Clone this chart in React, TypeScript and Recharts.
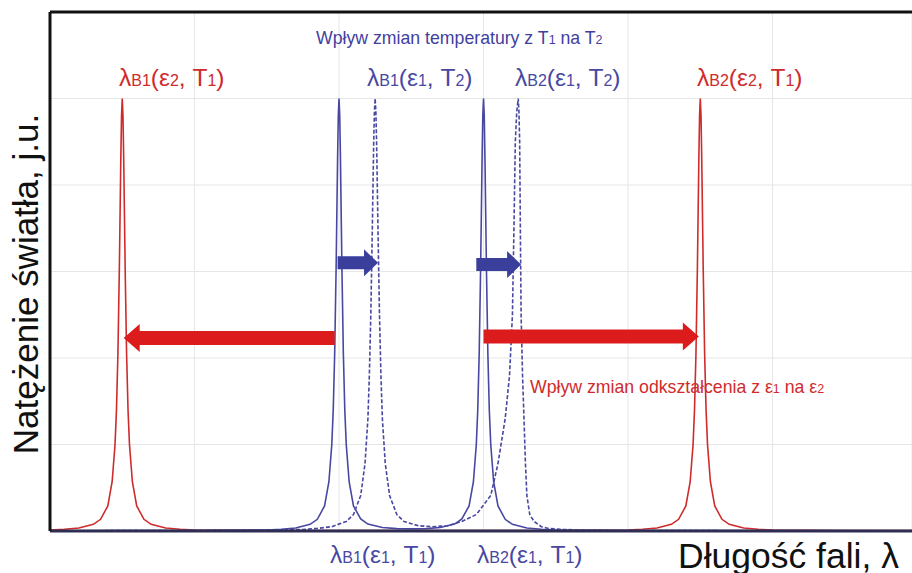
import React from "react";
import { LineChart, Line, XAxis, YAxis, CartesianGrid, ReferenceLine } from "recharts";

const W = 912;
const H = 573;

// spectrum (ε2, T1) – red
const redX = [
  0, 0.1, 0.2, 0.3, 0.35, 0.4, 0.43, 0.45, 0.46, 0.47, 0.48, 0.49, 0.495, 0.5, 0.505, 0.51, 0.52, 0.53, 0.54,
  0.55, 0.57, 0.6, 0.65, 0.7, 0.8, 0.9, 1.0, 1.5, 2.0, 2.5, 3.0, 3.5, 4.0, 4.1, 4.2, 4.3, 4.35, 4.4, 4.43, 4.45,
  4.46, 4.47, 4.48, 4.49, 4.495, 4.5, 4.505, 4.51, 4.52, 4.53, 4.54, 4.55, 4.57, 4.6, 4.65, 4.7, 4.8, 4.9, 5.0,
  5.5, 6.0,
];
const redY = [
  0.012, 0.02, 0.035, 0.077, 0.135, 0.29, 0.57, 1.0, 1.4, 2.05, 3.05, 4.3, 4.8, 5, 4.8, 4.3, 3.05, 2.05, 1.4,
  1.0, 0.57, 0.29, 0.135, 0.077, 0.035, 0.02, 0.012, 0.006, 0.004, 0.004, 0.004, 0.006, 0.012, 0.02, 0.035,
  0.077, 0.135, 0.29, 0.57, 1.0, 1.4, 2.05, 3.05, 4.3, 4.8, 5, 4.8, 4.3, 3.05, 2.05, 1.4, 1.0, 0.57, 0.29,
  0.135, 0.077, 0.035, 0.02, 0.012, 0.006, 0.004,
];

// spectrum (ε1, T1) – blue solid
const blueX = [
  0, 0.5, 1.0, 1.5, 1.6, 1.7, 1.8, 1.85, 1.9, 1.93, 1.95, 1.96, 1.97, 1.98, 1.99, 1.995, 2.0, 2.005, 2.01, 2.02,
  2.03, 2.04, 2.05, 2.07, 2.1, 2.15, 2.2, 2.3, 2.4, 2.5, 2.6, 2.7, 2.8, 2.85, 2.9, 2.93, 2.95, 2.96, 2.97, 2.98,
  2.99, 2.995, 3.0, 3.005, 3.01, 3.02, 3.03, 3.04, 3.05, 3.07, 3.1, 3.15, 3.2, 3.3, 3.4, 3.5, 4.0, 5.0, 6.0,
];
const blueY = [
  0.003, 0.004, 0.006, 0.012, 0.02, 0.035, 0.077, 0.135, 0.29, 0.57, 1.0, 1.4, 2.05, 3.05, 4.3, 4.8, 5, 4.8,
  4.3, 3.05, 2.05, 1.4, 1.0, 0.57, 0.29, 0.14, 0.08, 0.04, 0.028, 0.024, 0.028, 0.04, 0.08, 0.14, 0.29, 0.57,
  1.0, 1.4, 2.05, 3.05, 4.3, 4.8, 5, 4.8, 4.3, 3.05, 2.05, 1.4, 1.0, 0.57, 0.29, 0.135, 0.077, 0.035, 0.02,
  0.012, 0.006, 0.004, 0.003,
];

// spectrum (ε1, T2) – blue dashed
const dashX = [
  0, 0.5, 1.0, 1.5, 1.75, 1.85, 1.95, 2.05, 2.1, 2.15, 2.18, 2.2, 2.21, 2.22, 2.23, 2.24, 2.245, 2.25, 2.255,
  2.26, 2.27, 2.28, 2.29, 2.3, 2.32, 2.35, 2.4, 2.45, 2.55, 2.65, 2.75, 2.85, 2.95, 3.05, 3.1, 3.15, 3.18, 3.2,
  3.21, 3.22, 3.23, 3.24, 3.245, 3.25, 3.255, 3.26, 3.27, 3.28, 3.29, 3.3, 3.32, 3.35, 3.4, 3.45, 3.55, 3.65,
  3.75, 4.0, 5.0, 6.0,
];
const dashY = [
  0.003, 0.004, 0.006, 0.01, 0.018, 0.03, 0.05, 0.11, 0.19, 0.41, 0.78, 1.3, 1.8, 2.5, 3.45, 4.5, 4.85, 5,
  4.85, 4.5, 3.45, 2.5, 1.8, 1.3, 0.78, 0.41, 0.19, 0.11, 0.06, 0.05, 0.06, 0.11, 0.19, 0.41, 0.78, 1.3, 1.8,
  2.5, 3.45, 4.5, 4.85, 5, 4.85, 4.5, 3.45, 2.5, 1.8, 1.3, 0.78, 0.41, 0.19, 0.11, 0.05, 0.03, 0.018, 0.012,
  0.008, 0.005, 0.003, 0.002,
];

const xTicks = [0, 1, 2, 3, 4, 5];
const yTicks = [0, 1, 2, 3, 4, 5, 6];

// shifts: [fromX, toX, y]
const strainShifts = [
  [1.97, 0.51, 2.23],
  [3.0, 4.49, 2.25],
];
const tempShifts = [
  [1.99, 2.27, 3.1],
  [2.95, 3.26, 3.08],
];

// labels: [sub, eps, T]
const topLabels = [
  ["B1", "2", "1"],
  ["B1", "1", "2"],
  ["B2", "1", "2"],
  ["B2", "2", "1"],
];
const bottomLabels = [
  ["B1", "1", "1"],
  ["B2", "1", "1"],
];

const RED = "#cf2b2b";
const BLUE = "#4848a2";
const FONT = "Liberation Sans, Arial, sans-serif";

const toRows = (xs: number[], ys: number[]) => xs.map((x, i) => ({ x, y: ys[i] }));

const arrow = (h: number, head: number, len: number, fill: string) => (p: any) => {
  const { x1, y1, x2 } = p;
  const dir = x2 > x1 ? 1 : -1;
  const bx = x2 - dir * len;
  const pts = [
    [x1, y1 - h],
    [bx, y1 - h],
    [bx, y1 - head],
    [x2, y1],
    [bx, y1 + head],
    [bx, y1 + h],
    [x1, y1 + h],
  ];
  return <polygon points={pts.map((q) => q.join(",")).join(" ")} fill={fill} />;
};

function Lam({ x, y, parts, color }: { x: number; y: number; parts: string[]; color: string }) {
  const [b, e, t] = parts;
  return (
    <text x={x} y={y} fill={color} fontSize={24.5} fontFamily={FONT}>
      <tspan>λ</tspan>
      <tspan fontSize={16}>{b}</tspan>
      <tspan>(ε</tspan>
      <tspan fontSize={16}>{e}</tspan>
      <tspan>, T</tspan>
      <tspan fontSize={16}>{t}</tspan>
      <tspan>)</tspan>
    </text>
  );
}

export default function App() {
  const red = toRows(redX, redY);
  const blue = toRows(blueX, blueY);
  const dash = toRows(dashX, dashY);
  const topPos = [
    [119, RED],
    [367, BLUE],
    [515, BLUE],
    [697, RED],
  ];
  const bottomPos = [330, 477];

  return (
    <div style={{ position: "relative", width: W, height: H, background: "#fff" }}>
      <style>{"body{margin:0}"}</style>
      <LineChart width={W} height={H} margin={{ top: 12, right: 0, bottom: 42, left: 50 }}>
        <CartesianGrid stroke="#e6e6e6" strokeWidth={1} />
        <XAxis
          type="number"
          dataKey="x"
          domain={[0, 5.965]}
          ticks={xTicks}
          allowDataOverflow
          height={0}
          tickSize={3}
          tickLine={{ stroke: "#222", strokeWidth: 2 }}
          tickFormatter={() => ""}
          axisLine={{ stroke: "#2c2c4e", strokeWidth: 3 }}
        />
        <YAxis
          type="number"
          domain={[0, 6]}
          ticks={yTicks}
          allowDataOverflow
          width={0}
          tickSize={3}
          tickLine={{ stroke: "#222", strokeWidth: 1 }}
          tickFormatter={() => ""}
          axisLine={{ stroke: "#111", strokeWidth: 3 }}
        />
        <Line data={red} dataKey="y" stroke={RED} strokeWidth={1.6} dot={false} isAnimationActive={false} type="linear" />
        <Line data={blue} dataKey="y" stroke={BLUE} strokeWidth={1.6} dot={false} isAnimationActive={false} type="linear" />
        <Line
          data={dash}
          dataKey="y"
          stroke={BLUE}
          strokeWidth={1.6}
          strokeDasharray="4 2"
          dot={false}
          isAnimationActive={false}
          type="linear"
        />
        <ReferenceLine y={6} stroke="#111" strokeWidth={3} />
        <ReferenceLine y={0} stroke="#2e2e52" strokeWidth={3} />
        <ReferenceLine x={0} stroke="#111" strokeWidth={3} />
        {strainShifts.map(([a, b, y], i) => (
          <ReferenceLine
            key={"s" + i}
            segment={[
              { x: a, y },
              { x: b, y },
            ]}
            shape={arrow(7, 14, 16, "#dc1c1c")}
          />
        ))}
        {tempShifts.map(([a, b, y], i) => (
          <ReferenceLine
            key={"t" + i}
            segment={[
              { x: a, y },
              { x: b, y },
            ]}
            shape={arrow(6.5, 13.5, 14, "#3a3f9c")}
          />
        ))}
      </LineChart>
      <svg width={W} height={H} style={{ position: "absolute", left: 0, top: 0, pointerEvents: "none" }}>
        <text x={316} y={44} fill="#3f3fa0" fontSize={17.7} fontFamily={FONT}>
          Wpływ zmian temperatury z T<tspan fontSize={12.5}>1</tspan> na T<tspan fontSize={12.5}>2</tspan>
        </text>
        {topLabels.map((p, i) => (
          <Lam key={i} x={topPos[i][0] as number} y={86} parts={p} color={topPos[i][1] as string} />
        ))}
        {bottomLabels.map((p, i) => (
          <Lam key={i} x={bottomPos[i]} y={563} parts={p} color={BLUE} />
        ))}
        <text x={530} y={393} fill={RED} fontSize={17.7} fontFamily={FONT}>
          Wpływ zmian odkształcenia z ε<tspan fontSize={12.5}>1</tspan> na ε<tspan fontSize={12.5}>2</tspan>
        </text>
        <text x={678} y={568} fill="#111" fontSize={35.5} fontFamily={FONT}>
          Długość fali, λ
        </text>
        <text
          x={0}
          y={0}
          transform="translate(38,284) rotate(-90)"
          textAnchor="middle"
          fill="#111"
          fontSize={35}
          fontFamily={FONT}
        >
          Natężenie światła, j.u.
        </text>
      </svg>
    </div>
  );
}
